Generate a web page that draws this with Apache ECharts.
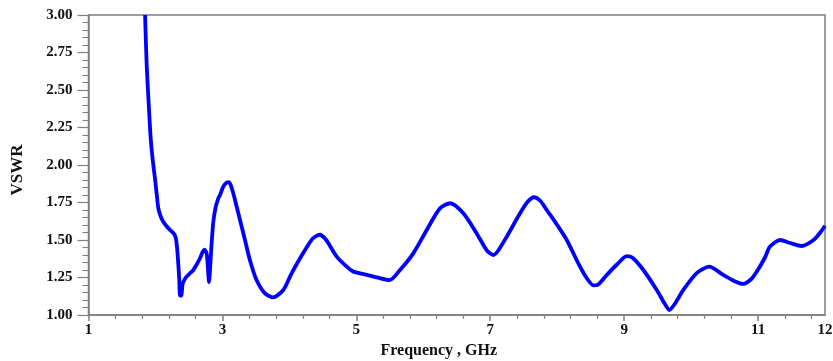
<!DOCTYPE html>
<html>
<head>
<meta charset="utf-8">
<script src="https://cdn.jsdelivr.net/npm/echarts@6/dist/echarts.min.js"></script>
<style>
html,body{margin:0;padding:0;background:#fff;}
#c{width:833px;height:361px;}
</style>
</head>
<body>
<div id="c"></div>
<script>
// Data
const freq = [1.845,1.869,1.90,1.929,1.96,1.993,2.02,2.043,2.08,2.117,2.17,2.217,2.27,2.30,2.32,2.34,2.355,2.367,2.385,2.407,2.44,2.467,2.52,2.566,2.62,2.665,2.705,2.735,2.765,2.785,2.80,2.815,2.835,2.864,2.90,2.939,2.964,3.013,3.06,3.10,3.15,3.188,3.263,3.337,3.41,3.51,3.636,3.76,3.91,4.01,4.06,4.234,4.35,4.45,4.55,4.707,4.857,4.95,5.055,5.305,5.50,5.653,5.851,6.052,6.25,6.40,6.598,6.798,6.95,7.046,7.12,7.246,7.445,7.55,7.654,7.75,7.844,8.0,8.143,8.341,8.45,8.54,8.60,8.74,8.90,9.039,9.13,9.287,9.487,9.60,9.675,9.75,9.884,10.08,10.27,10.48,10.65,10.78,10.90,10.98,11.10,11.179,11.33,11.48,11.65,11.83,11.93,12.0];
const vswr = [3.00,2.667,2.40,2.178,2.03,1.911,1.80,1.711,1.655,1.622,1.59,1.567,1.545,1.52,1.46,1.35,1.24,1.13,1.13,1.21,1.24,1.256,1.28,1.30,1.34,1.378,1.42,1.435,1.41,1.30,1.22,1.30,1.45,1.62,1.72,1.778,1.80,1.856,1.882,1.885,1.83,1.767,1.633,1.50,1.367,1.233,1.144,1.118,1.167,1.256,1.30,1.433,1.51,1.535,1.50,1.389,1.322,1.29,1.278,1.251,1.233,1.30,1.411,1.567,1.711,1.745,1.678,1.544,1.43,1.40,1.43,1.522,1.678,1.75,1.785,1.76,1.70,1.60,1.50,1.322,1.24,1.198,1.20,1.267,1.34,1.392,1.38,1.30,1.167,1.08,1.033,1.07,1.167,1.278,1.322,1.267,1.225,1.207,1.24,1.289,1.38,1.456,1.50,1.48,1.46,1.50,1.55,1.595];

const xLabelValues = [1,3,5,7,9,11,12];
const xMajorTickValues = [1,3,5,7,9,11];
const xMinorTickValues = [1.4,1.8,2.2,2.6,3.4,3.8,4.2,4.6,5.4,5.8,6.2,6.6,7.4,7.8,8.2,8.6,9.4,9.8,10.2,10.6,11.4,11.8];
const yMin = 1, yMax = 3, yStep = 0.25;
const xMin = 1, xMax = 12;
const xTitle = 'Frequency , GHz';
const yTitle = 'VSWR';

const points = freq.map((f, i) => [f, vswr[i]]);

const axisGray = '#7f7f7f';
const fontFam = '"Liberation Serif", "Times New Roman", serif';

const chart = echarts.init(document.getElementById('c'), null, {renderer: 'canvas'});
chart.setOption({
  animation: false,
  backgroundColor: '#ffffff',
  grid: {left: 88.5, right: 8, top: 15, bottom: 46, show: true, borderColor: axisGray, borderWidth: 1.5, containLabel: false, outerBoundsMode: 'none'},
  xAxis: [{
    type: 'value', min: xMin, max: xMax,
    axisLine: {show: true, lineStyle: {color: axisGray, width: 1.5}},
    axisTick: {show: true, customValues: xMinorTickValues, length: 4, lineStyle: {color: axisGray, width: 1.2}},
    axisLabel: {show: true, customValues: xLabelValues, margin: 8, color: '#111', fontFamily: fontFam, fontWeight: 'bold', fontSize: 15},
    splitLine: {show: false},
    name: xTitle, nameLocation: 'middle', nameGap: 24,
    nameTextStyle: {fontFamily: fontFam, fontWeight: 'bold', fontSize: 16, color: '#111', padding: [0, 36, 0, 0]}
  }, {
    type: 'value', min: xMin, max: xMax, position: 'bottom',
    axisLine: {show: false},
    axisTick: {show: true, customValues: xMajorTickValues, length: 6, lineStyle: {color: axisGray, width: 1.5}},
    axisLabel: {show: false},
    splitLine: {show: false}
  }],
  yAxis: {
    type: 'value', min: yMin, max: yMax, interval: yStep,
    axisLine: {show: true, lineStyle: {color: axisGray, width: 1.5}},
    axisTick: {show: true, length: 11, lineStyle: {color: axisGray, width: 1.2}},
    minorTick: {show: true, splitNumber: 5, length: 6, lineStyle: {color: axisGray, width: 1}},
    axisLabel: {margin: 16, color: '#111', fontFamily: fontFam, fontWeight: 'bold', fontSize: 15, formatter: v => v.toFixed(2)},
    splitLine: {show: false},
    name: yTitle, nameLocation: 'middle', nameGap: 62, nameRotate: 90,
    nameTextStyle: {fontFamily: fontFam, fontWeight: 'bold', fontSize: 17, color: '#111', padding: [0, 10, 0, 0]}
  },
  series: [{
    type: 'line', data: points, xAxisIndex: 0,
    showSymbol: false, smooth: 0.25, clip: true,
    lineStyle: {color: '#0000ff', width: 3.8}
  }]
});
</script>
</body>
</html>
